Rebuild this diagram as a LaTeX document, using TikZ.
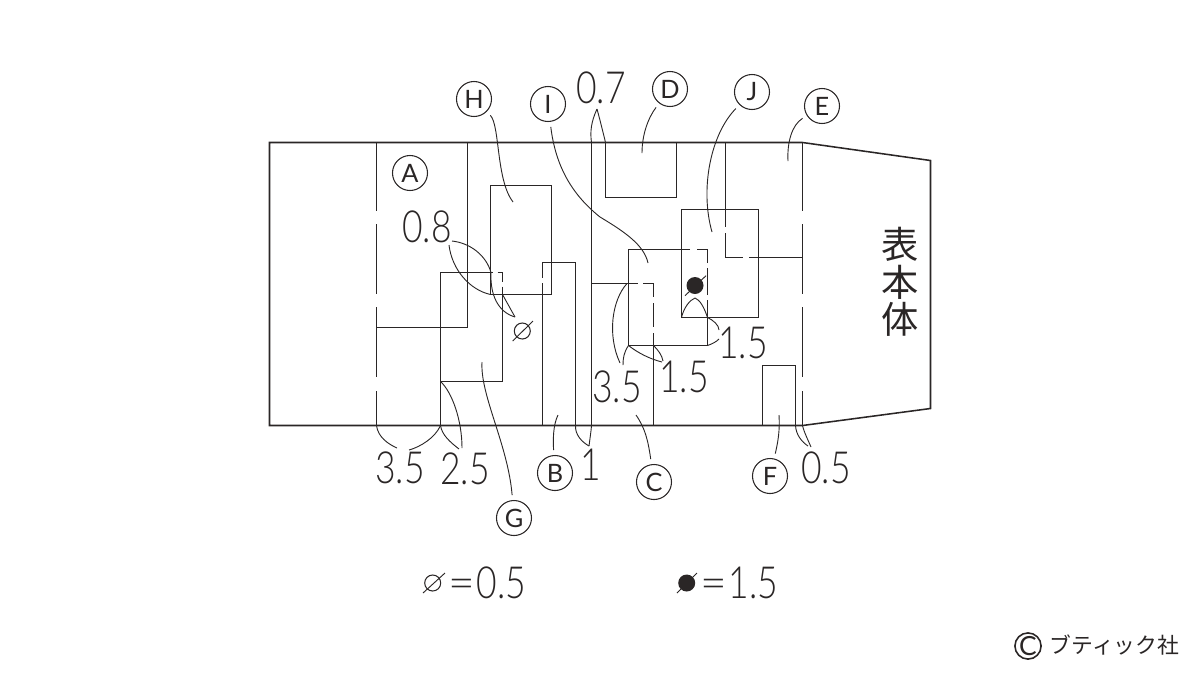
\documentclass[tikz,border=0pt]{standalone}
\usepackage{fontspec}
\setmainfont{Lato}
\newfontfamily\dimfont[FakeStretch=0.8]{Lato Light}
\newfontfamily\cjkfont{Noto Sans CJK JP}
\definecolor{inkline}{HTML}{2A2626}
\newcommand{\unitpx}{*0.2845pt}
\newcommand{\wideeq}{\scalebox{1.3}[1]{=}\hspace{0.35pt}}
\tikzset{
  partlabel/.style={circle,draw=inkline,line width=0.3pt,minimum size=35\unitpx,inner sep=0pt,text=inkline,font=\fontsize{7.2}{8}\selectfont},
  dimlabel/.style={inner sep=0pt,text=inkline,font=\dimfont\fontsize{12.6}{13}\selectfont},
  outline/.style={draw=inkline,line width=0.44pt},
  leader/.style={draw=inkline,line width=0.26pt},
  pinleader/.style={leader,shorten <=5\unitpx},
  holemark/.style={circle,draw=inkline,line width=0.3pt,minimum size=16\unitpx,inner sep=0pt},
  dotmark/.style={circle,fill=inkline,minimum size=17\unitpx,inner sep=0pt}
}
\begin{document}
\begin{tikzpicture}[x=0.01cm,y=-0.01cm]
   \useasboundingbox (0,0) rectangle (1200,675);

   \draw[outline] (269.5,142.5) -- (802.5,142.5) -- (930.5,160.5) -- (930.5,408.5) -- (802.5,425.5) -- (269.5,425.5) -- cycle;
   \foreach \seamx in {376.5,802.5} {
     \draw[outline] (\seamx,142.5) -- (\seamx,211) (\seamx,224) -- (\seamx,294) (\seamx,307) -- (\seamx,377) (\seamx,391) -- (\seamx,425.5);
   }
   \draw[outline] (591.5,142.5) -- (591.5,425.5);
   \draw[outline] (467.5,142.5) -- (467.5,327.5) -- (376.5,327.5);
   \draw[outline] (490.5,185.5) rectangle (551.5,294.5);
   \draw[outline] (440.5,425.5) -- (440.5,272.5) -- (492.5,272.5) (497.5,272.5) -- (502.5,272.5) -- (502.5,281.5) (502.5,286.5) -- (502.5,381.5) -- (440.5,381.5);
   \draw[outline] (542.5,425.5) -- (542.5,282.5) (542.5,277.5) -- (542.5,262.5) -- (575.5,262.5) -- (575.5,425.5);
   \draw[outline] (605.5,142.5) -- (605.5,197.5) -- (676.5,197.5) -- (676.5,142.5);
   \draw[outline] (681.5,209.5) rectangle (758.5,317.5);
   \draw[outline] (690,249.5) -- (628.5,249.5) -- (628.5,345.5) -- (707.5,345.5) -- (707.5,300) (707.5,295) -- (707.5,268) (707.5,263) -- (707.5,249.5) -- (697,249.5);
   \draw[outline] (591.5,283.5) -- (638,283.5) (643,283.5) -- (653.5,283.5) -- (653.5,297) (653.5,303) -- (653.5,327) (653.5,333) -- (653.5,425.5);
   \draw[outline] (725.5,142.5) -- (725.5,227) (725.5,233) -- (725.5,257.5) -- (742.5,257.5) (749,257.5) -- (802.5,257.5);
   \draw[outline] (762.5,425.5) -- (762.5,365.5) -- (795.5,365.5) -- (795.5,425.5);

   \node[partlabel] (part_a) at (410,173) {A};
   \node[partlabel] (part_b) at (555,473) {B};
   \node[partlabel] (part_c) at (654,482) {C};
   \node[partlabel] (part_d) at (670,89) {D};
   \node[partlabel] (part_e) at (822,106) {E};
   \node[partlabel] (part_f) at (770,476) {F};
   \node[partlabel] (part_g) at (514,518) {G};
   \node[partlabel] (part_h) at (474,99) {H};
   \node[partlabel] (part_i) at (548,104) {I};
   \node[partlabel] (part_j) at (752,92) {J};

   \node[dimlabel] (dim_08) at (427,227) {0.8};
   \node[dimlabel] (dim_07) at (601,88) {0.7};
   \node[dimlabel] (dim_35a) at (400,468) {3.5};
   \node[dimlabel] (dim_25) at (465,469) {2.5};
   \node[dimlabel] (dim_1) at (591,465) {1};
   \node[dimlabel] (dim_05) at (826,468) {0.5};
   \node[dimlabel] (dim_35b) at (617,387) {3.5};
   \node[dimlabel] (dim_15a) at (684,377) {1.5};
   \node[dimlabel] (dim_15b) at (743,343) {1.5};

   \node[holemark] (hole) at (522.3,331) {};
   \draw[leader] (512.7,341) -- (533,321);
   \node[dotmark] (dot) at (695,285.5) {};
   \draw[leader] (685,295.7) -- (706,275.7);

   \coordinate (h_end) at (513,202);
   \coordinate (i_end) at (648,263);
   \coordinate (d_end) at (642,153);
   \coordinate (j_end) at (712,232);
   \coordinate (e_end) at (788,161);
   \coordinate (g_end) at (482,362);
   \coordinate (b_end) at (558,415);
   \coordinate (c_end) at (636,415);
   \coordinate (f_end) at (779,415);
   \draw[pinleader] (part_h) .. controls (500,125) and (496,180) .. (h_end);
   \draw[pinleader] (part_d) .. controls (648,118) and (642,135) .. (d_end);
   \draw[pinleader] (part_e) .. controls (792,125) and (787,142) .. (e_end);
   \draw[pinleader] (part_j) .. controls (710,135) and (700,190) .. (j_end);
   \draw[pinleader] (part_i) .. controls (556,170) and (575,197) .. (600,217) .. controls (625,232) and (644,245) .. (i_end);
   \draw[pinleader] (part_g) .. controls (508,445) and (480,395) .. (g_end);
   \draw[pinleader] (part_b) .. controls (553,440) and (553,425) .. (b_end);
   \draw[pinleader] (part_c) .. controls (648,440) and (645,428) .. (c_end);
   \draw[pinleader] (part_f) .. controls (778,442) and (780,430) .. (f_end);

   \coordinate (tip_07) at (597,109);
   \coordinate (tip_hole) at (515,317);
   \coordinate (tip_1) at (589,446);
   \coordinate (tip_dot) at (695,298);
   \draw[leader] (tip_07) .. controls (591,122) and (590,132) .. (591.5,142.5);
   \draw[leader] (tip_07) .. controls (600,120) and (603,132) .. (605.5,142.5);
   \draw[leader] (452,241) .. controls (470,243) and (486,255) .. (491,272.5);
   \draw[leader] (449,245) .. controls (452,270) and (470,290) .. (490.5,294.5);
   \draw[leader] (tip_hole) .. controls (498,312) and (490,295) .. (491,272.5);
   \draw[leader] (tip_hole) -- (502.5,294.5);
   \draw[leader] (376.5,425.5) .. controls (378,437) and (388,444) .. (397,448);
   \draw[leader] (440.5,425.5) .. controls (435,438) and (420,447) .. (409,450);
   \draw[leader] (440.5,425.5) .. controls (442,435) and (450,442) .. (459,449);
   \draw[leader] (440.5,381.5) .. controls (452,392) and (462,420) .. (462,448);
   \draw[leader] (575.5,425.5) .. controls (575,435) and (582,442) .. (tip_1);
   \draw[leader] (591.5,425.5) .. controls (591,432) and (590,438) .. (tip_1);
   \draw[leader] (795.5,425.5) .. controls (796,435) and (802,442) .. (808,446);
   \draw[leader] (802.5,425.5) .. controls (804,432) and (808,440) .. (811,447);
   \draw[leader] (627,283.5) .. controls (612,300) and (607,335) .. (620,363);
   \draw[leader] (628.5,345.5) .. controls (624,352) and (623,358) .. (623,365);
   \draw[leader] (628.5,345.5) .. controls (638,353) and (650,359) .. (662,362);
   \draw[leader] (653.5,345.5) .. controls (658,350) and (662,355) .. (663,361);
   \draw[leader] (707.5,317.5) .. controls (713,320) and (719,325) .. (719,330);
   \draw[leader] (707.5,345.5) .. controls (712,344) and (716,342) .. (719,339);
   \draw[leader] (681.5,317.5) .. controls (684,307) and (690,300) .. (tip_dot);
   \draw[leader] (707.5,317.5) .. controls (704,307) and (700,300) .. (tip_dot);

   \node[text=inkline,inner sep=0pt,align=center,font=\cjkfont\fontsize{10.6}{10.7}\selectfont] (body_text) at (900,282) {表\\本\\体};

   \node[holemark] (key_hole) at (432.7,583) {};
   \draw[leader] (423,593) -- (445,573);
   \node[dimlabel,anchor=west] (key_hole_text) at (448,583) {\wideeq 0.5};
   \node[dotmark] (key_dot) at (686.7,583) {};
   \draw[leader] (677,593) -- (697,573);
   \node[dimlabel,anchor=west] (key_dot_text) at (700,583) {\wideeq 1.5};

   \node[circle,draw=inkline,line width=0.45pt,minimum size=25\unitpx,inner sep=0pt,text=inkline,font=\fontsize{7.5}{8}\selectfont] (copy_mark) at (1028,646) {C};
   \node[anchor=west,inner sep=0pt,text=inkline,font=\cjkfont\fontsize{6.2}{7}\selectfont] (copy_text) at (1049,645) {ブティック社};
\end{tikzpicture}
\end{document}
